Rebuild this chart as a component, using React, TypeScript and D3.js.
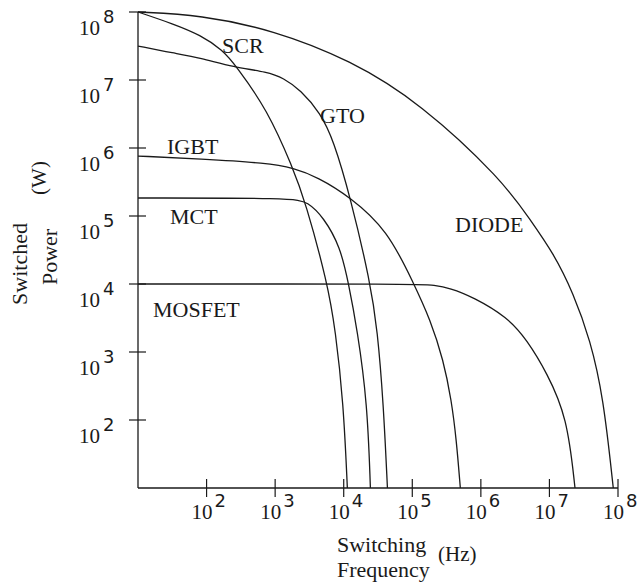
import React from 'react';
import * as d3 from 'd3';

const width = 641;
const height = 586;
const margin = { top: 12, right: 23, bottom: 98, left: 138 };

const tickExponents = [2, 3, 4, 5, 6, 7, 8];

// frequency (Hz) / switched power (W)
const diodeFreq = [10, 81.5, 944, 1.25e4, 1.31e5, 2.06e6, 5.27e6, 1.14e7, 2.23e7, 3.94e7, 6.11e7, 8.53e7];
const diodePower = [1e8, 9.04e7, 5.43e7, 1.97e7, 4.59e6, 3.38e5, 8.73e4, 2.86e4, 7.38e3, 1.5e3, 218, 10];

const scrFreq = [10, 32.9, 81.5, 171, 264, 773, 1790, 2770, 5780, 7570, 9910, 1.13e4];
const scrPower = [1e8, 6.67e7, 4.59e7, 2.76e7, 1.66e7, 3.62e6, 5.26e5, 1.61e5, 1.04e4, 2.11e3, 178, 10];

const gtoFreq = [10, 32.9, 81.5, 247, 773, 1320, 2340, 4570, 7080, 1.25e4, 2.45e4, 3.1e4, 3.79e4, 4.34e4];
const gtoPower = [3.16e7, 2.49e7, 2.11e7, 1.55e7, 1.31e7, 1.07e7, 7.13e6, 3.27e6, 1.31e6, 1.9e5, 1.04e4, 2.11e3, 178, 10];

const igbtFreq = [10, 81.5, 773, 1850, 4140, 1.25e4, 4.34e4, 1.04e5, 1.84e5, 2.84e5, 3.72e5, 4.4e5, 5.02e5];
const igbtPower = [7.62e5, 6.89e5, 6.01e5, 5.08e5, 3.75e5, 1.9e5, 6.22e4, 1.04e4, 2.96e3, 762, 197, 50.8, 10];

const mctFreq = [10, 1850, 2960, 5060, 8950, 1.17e4, 1.58e4, 2.21e4, 2.45e4];
const mctPower = [1.84e5, 1.84e5, 1.61e5, 9.66e4, 3.5e4, 1.04e4, 2.11e3, 178, 10];

const mosfetFreq = [10, 1.31e5, 2.03e5, 3.56e5, 7.69e5, 2.43e6, 4.71e6, 9.23e6, 1.81e7, 2.36e7];
const mosfetPower = [1e4, 1e4, 9.66e3, 8.73e3, 6.44e3, 3.27e3, 1.5e3, 491, 111, 10];

const curves = [
  { name: 'DIODE', f: diodeFreq, p: diodePower },
  { name: 'SCR', f: scrFreq, p: scrPower },
  { name: 'GTO', f: gtoFreq, p: gtoPower },
  { name: 'IGBT', f: igbtFreq, p: igbtPower },
  { name: 'MCT', f: mctFreq, p: mctPower },
  { name: 'MOSFET', f: mosfetFreq, p: mosfetPower },
];

const labels = [
  { text: 'SCR', x: 222, y: 53 },
  { text: 'GTO', x: 320, y: 123 },
  { text: 'IGBT', x: 167, y: 154 },
  { text: 'MCT', x: 170, y: 224 },
  { text: 'MOSFET', x: 153, y: 317 },
  { text: 'DIODE', x: 455, y: 232 },
];

const serif = '"Liberation Serif", "Times New Roman", serif';
const sans = '"DejaVu Sans", "Liberation Sans", sans-serif';
const ink = '#1a1a1a';

export default function App() {
  const xScale = d3
    .scaleLog()
    .domain([10, 1e8])
    .range([margin.left, width - margin.right]);
  const yScale = d3
    .scaleLog()
    .domain([10, 1e8])
    .range([height - margin.bottom, margin.top]);

  // hand-read points are a bit noisy, a b-spline smooths them out
  const line = d3
    .line<[number, number]>()
    .x(d => xScale(d[0]))
    .y(d => yScale(d[1]))
    .curve(d3.curveBasis);

  const x0 = xScale(10);
  const y0 = yScale(10);

  return (
    <svg
      width={width}
      height={height}
      style={{ position: 'absolute', left: 0, top: 0, background: '#fff' }}
    >
      {/* axes */}
      <line x1={x0} x2={xScale(1e8)} y1={y0} y2={y0} stroke={ink} strokeWidth={1.3} />
      <line x1={x0} x2={x0} y1={y0} y2={yScale(1e8)} stroke={ink} strokeWidth={1.3} />

      {tickExponents.map(e => {
        const ty = yScale(Math.pow(10, e));
        return (
          <g key={'y' + e}>
            <line x1={x0 - 9} x2={x0 + 8} y1={ty} y2={ty} stroke={ink} strokeWidth={1.2} />
            <text x={79} y={ty + 23} fontFamily={serif} fontSize={21} fill={ink}>
              10
            </text>
            <text x={103} y={ty + 11} fontFamily={sans} fontSize={18} fontWeight={500} fill={ink}>
              {e}
            </text>
          </g>
        );
      })}

      {tickExponents.map(e => {
        const tx = xScale(Math.pow(10, e));
        return (
          <g key={'x' + e}>
            <line x1={tx} x2={tx} y1={y0 - 9} y2={y0 + 9} stroke={ink} strokeWidth={1.2} />
            <text x={tx - 15} y={y0 + 31} fontFamily={serif} fontSize={21} fill={ink}>
              10
            </text>
            <text x={tx + 8} y={y0 + 19} fontFamily={sans} fontSize={18} fontWeight={500} fill={ink}>
              {e}
            </text>
          </g>
        );
      })}

      {/* curves */}
      {curves.map(c => (
        <path
          key={c.name}
          d={line(c.f.map((f, i) => [f, c.p[i]] as [number, number])) || ''}
          fill="none"
          stroke={ink}
          strokeWidth={1.3}
        />
      ))}

      {labels.map(l => (
        <text key={l.text} x={l.x} y={l.y} fontFamily={serif} fontSize={22} fill={ink}>
          {l.text}
        </text>
      ))}

      {/* axis titles */}
      <text
        transform="translate(27, 264) rotate(-90)"
        textAnchor="middle"
        fontFamily={serif}
        fontSize={22}
        fill={ink}
      >
        Switched
      </text>
      <text
        transform="translate(57, 257) rotate(-90)"
        textAnchor="middle"
        fontFamily={serif}
        fontSize={22}
        fill={ink}
      >
        Power
      </text>
      <text
        transform="translate(46, 178) rotate(-90)"
        textAnchor="middle"
        fontFamily={serif}
        fontSize={21}
        fill={ink}
      >
        (W)
      </text>
      <text x={337} y={552} fontFamily={serif} fontSize={22} fill={ink}>
        Switching
      </text>
      <text x={337} y={577} fontFamily={serif} fontSize={22} fill={ink}>
        Frequency
      </text>
      <text x={438} y={561} fontFamily={serif} fontSize={21} fill={ink}>
        (Hz)
      </text>
    </svg>
  );
}
